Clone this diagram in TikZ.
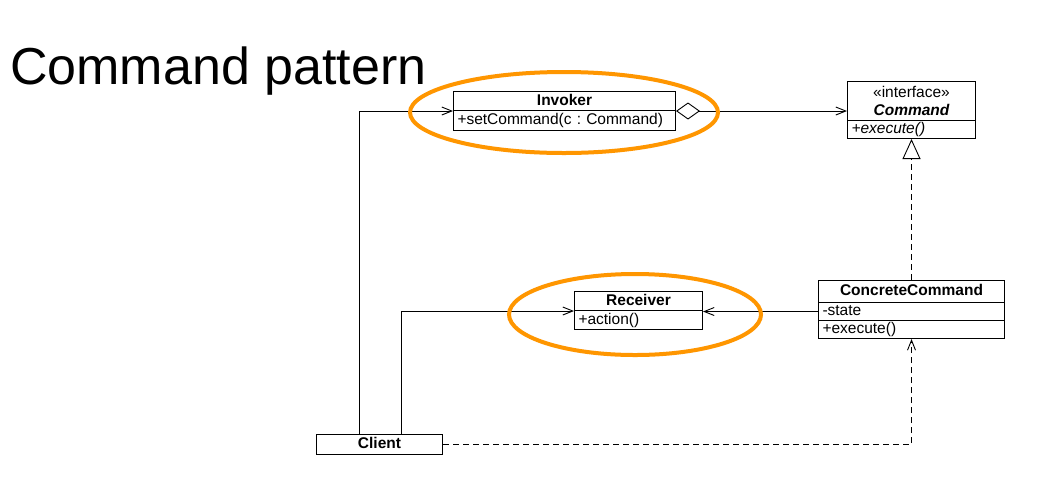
\documentclass[tikz,border=0pt]{standalone}
\usepackage{fontspec}
\setmainfont{Liberation Sans}
\usetikzlibrary{arrows.meta}
\definecolor{hl}{RGB}{255,150,0}
\begin{document}
\frenchspacing
\begin{tikzpicture}[x=1pt,y=-1pt,
  cls/.style={draw, line width=1pt, inner xsep=4pt, inner ysep=0pt, anchor=north west,
    font=\fontsize{15.5}{18}\selectfont},
  row/.style={cls, text height=11pt, text depth=3pt},
  lrow/.style={row, align=left},
  assoc/.style={line width=0.9pt, -{Straight Barb[length=10pt,width=8pt,line width=0.9pt]}},
  dep/.style={assoc, dash pattern=on 6pt off 4pt},
  real/.style={line width=0.9pt, dash pattern=on 6pt off 4pt, -{Triangle[open,length=20pt,width=18pt,line width=0.9pt]}},
  aggr/.style={line width=0.9pt, {Diamond[open,length=24pt,width=17pt,line width=0.9pt]}-{Straight Barb[length=10pt,width=8pt,line width=0.9pt]}},
  hilite/.style={draw=hl, line width=4pt}
]
\useasboundingbox[fill=white] (0,0) rectangle (1040,491);

% title
\node[anchor=base west, inner sep=0pt, font=\fontsize{52}{60}\selectfont] (title) at (10,84) {Command pattern};

% Invoker
\node[row, minimum width=222pt, minimum height=19pt] (invT) at (453,91) {\bfseries Invoker};
\node[lrow, minimum width=222pt, minimum height=20pt, text width=214pt] (invO) at (453,110) {+setCommand(c : Command)};

% Command
\node[cls, minimum width=128pt, minimum height=39pt, align=center] (cmdT) at (847,81) {«interface»\\\bfseries\itshape Command};
\node[lrow, minimum width=128pt, minimum height=18pt, text width=120pt] (cmdO) at (847,120) {\itshape +execute()};

% Receiver
\node[row, minimum width=128pt, minimum height=19pt] (recT) at (574,291) {\bfseries Receiver};
\node[lrow, minimum width=128pt, minimum height=19pt, text width=120pt] (recO) at (574,310) {+action()};

% ConcreteCommand
\node[row, minimum width=186pt, minimum height=22pt] (ccT) at (818,280) {\bfseries ConcreteCommand};
\node[lrow, minimum width=186pt, minimum height=18pt, text width=178pt] (ccA) at (818,302) {-state};
\node[lrow, minimum width=186pt, minimum height=18pt, text width=178pt] (ccO) at (818,320) {+execute()};

% Client
\node[row, minimum width=126pt, minimum height=20pt] (client) at (316,434) {\bfseries Client};

% connectors
\coordinate (c1) at (359,434);
\coordinate (c2) at (401,434);
\draw[assoc] (c1) |- (invT.south west);
\draw[assoc] (c2) |- (recT.south west);
\draw[aggr] (invT.south east) -- (invT.south east -| cmdT.west);
\draw[real] (ccT.north) -- (cmdO.south);
\draw[assoc] (ccA.west) -- (ccA.west -| recO.east);
\draw[dep] (client.east) -| (ccO.south);

% highlights
\draw[hilite] (564,112.5) ellipse [x radius=154pt, y radius=40.5pt];
\draw[hilite] (635,314.5) ellipse [x radius=126pt, y radius=40.5pt];
\end{tikzpicture}
\end{document}
